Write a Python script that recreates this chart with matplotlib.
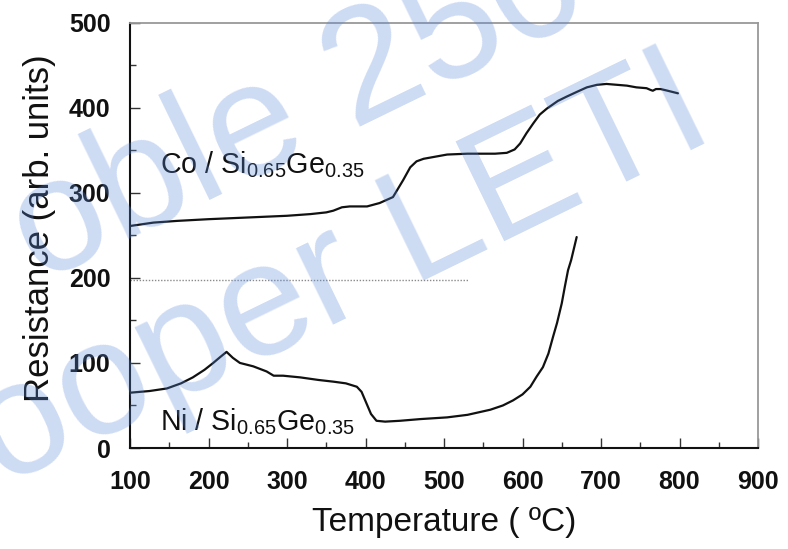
import matplotlib
matplotlib.use("Agg")
import matplotlib.pyplot as plt
from matplotlib.ticker import MultipleLocator

plt.rcParams["font.family"] = ["Liberation Sans", "DejaVu Sans"]
plt.rcParams["mathtext.default"] = "regular"

# Co / Si0.65Ge0.35 sheet resistance during the anneal ramp
co_temp = [100, 130, 160, 200, 250, 300, 330, 350, 359, 370, 380, 402, 418, 435,
           448, 457, 465, 474, 504, 530, 546, 565, 580, 590, 597, 605, 614, 622,
           631, 645, 656, 670, 682, 695, 707, 720, 733, 745, 758, 763, 766, 770,
           776, 785, 798]
co_res = [261, 265, 267, 269, 271, 273, 275, 277, 279, 283, 284, 284, 288, 295,
          315, 330, 337, 340, 345, 346, 346, 346, 347, 351, 358, 370, 382, 392,
          399, 408, 413, 419, 424, 427, 428, 427, 426, 424, 423, 421, 420, 422,
          422, 420, 417]

# Ni / Si0.65Ge0.35 sheet resistance during the anneal ramp
ni_temp = [100, 125, 147, 165, 180, 195, 206, 215, 223, 231, 240, 257, 274, 283,
           295, 317, 340, 359, 375, 389, 395, 401, 407, 414, 425, 444, 470,
           504, 530, 559, 575, 588, 600, 610, 618, 626, 633, 639, 644, 650, 654,
           658, 662, 669]
ni_res = [65, 67, 70, 76, 83, 92, 100, 107, 113, 106, 100, 96, 90, 85,
          85, 83, 80, 78, 76, 72, 66, 53, 40, 32, 31, 32, 34,
          36, 39, 45, 50, 56, 63, 72, 84, 95, 111, 131, 147, 170, 190,
          209, 221, 248]

# dotted reference level
ref_temp = [100, 530]
ref_res = [197, 197]

x_ticks = [100, 200, 300, 400, 500, 600, 700, 800, 900]
y_ticks = [0, 100, 200, 300, 400, 500]

fig = plt.figure(figsize=(7.88, 5.49), dpi=100)
ax = fig.add_axes([130 / 788, 1 - 448 / 549, 628 / 788, 425.3 / 549])

ax.plot(co_temp, co_res, color="#111111", lw=1.6, solid_capstyle="round")
ax.plot(ni_temp, ni_res, color="#111111", lw=1.6, solid_capstyle="round")
ax.plot(ref_temp, ref_res, color="#8a8a8a", lw=1.0, linestyle=(0, (1, 1.2)))

ax.set_xlim(100, 900)
ax.set_ylim(0, 500)
ax.set_xticks(x_ticks)
ax.set_yticks(y_ticks)
ax.xaxis.set_minor_locator(MultipleLocator(50))
ax.yaxis.set_minor_locator(MultipleLocator(50))
ax.tick_params(which="major", direction="in", length=7, width=1.0, color="#333333")
ax.tick_params(which="minor", direction="in", length=4, width=1.0, color="#333333")
ax.tick_params(axis="x", which="major", pad=16)
ax.tick_params(axis="y", which="major", pad=14)
for lab in ax.get_xticklabels() + ax.get_yticklabels():
    lab.set_fontfamily("Liberation Sans")
    lab.set_fontweight("bold")
    lab.set_fontsize(18)
    lab.set_color("#111111")

for side in ("left", "bottom"):
    ax.spines[side].set_color("#111111")
    ax.spines[side].set_linewidth(1.5)
for side in ("top", "right"):
    ax.spines[side].set_color("#999999")
    ax.spines[side].set_linewidth(1.3)

ax.text(138, (448 - 173) / 0.8506, "Co / Si$_{0.65}$Ge$_{0.35}$", fontsize=20.6,
        color="#111111", ha="left", va="baseline")
ax.text(138, (448 - 430) / 0.8506, "Ni / Si$_{0.65}$Ge$_{0.35}$", fontsize=20.6,
        color="#111111", ha="left", va="baseline")

fig.text(444 / 788, 1 - 522 / 549, "Temperature ( ºC)", fontsize=24,
         ha="center", va="center", color="#111111")
fig.text(40 / 788, 1 - 228 / 549, "Resistance (arb. units)", fontsize=25,
         rotation=90, ha="center", va="center", color="#111111")

# watermark, drawn in a full-figure overlay and clipped to it
wm = fig.add_axes([0, 0, 1, 1], zorder=10)
wm.set_axis_off()
wm.set_xlim(0, 1)
wm.set_ylim(0, 1)
wm_color = (88 / 255, 135 / 255, 218 / 255)
for s, (px, py), ha in (("oble 2500", (39, 283), "left"),
                        ("Cooper LETI", (718, 137), "right")):
    wm.text(px / 788, 1 - py / 549, s, fontsize=116, rotation=26,
            rotation_mode="anchor", ha=ha, va="baseline", color=wm_color,
            alpha=0.3, clip_on=True, transform=wm.transAxes)

fig.savefig("out.png", dpi=100)
